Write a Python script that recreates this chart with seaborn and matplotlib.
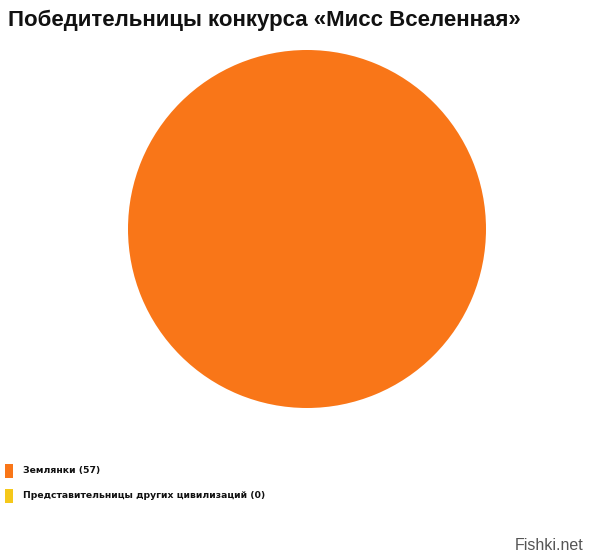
import matplotlib
matplotlib.use("Agg")
import matplotlib.pyplot as plt
from matplotlib.patches import Rectangle
import seaborn as sns

categories = ["Землянки", "Представительницы других цивилизаций"]
values = [57, 0]
colors = ["#F97618", "#F5C81A"]
title = "Победительницы конкурса «Мисс Вселенная»"

sns.set_theme(style="white")
plt.rcParams['font.family'] = ['Liberation Sans', 'DejaVu Sans']

W, H = 600, 559
fig = plt.figure(figsize=(W/100, H/100), dpi=100)
fig.patch.set_facecolor("white")

cx, cy, r = 307, 229, 179
ax = fig.add_axes([(cx - r)/W, (H - cy - r)/H, 2*r/W, 2*r/H])
ax.pie(values, colors=colors, startangle=90, counterclock=False,
       wedgeprops=dict(linewidth=0))
ax.set_aspect("equal")
ax.set_xlim(-1, 1)
ax.set_ylim(-1, 1)
ax.axis("off")

fig.text(8/W, 1 - 20/H, title, fontsize=16, fontweight="bold",
         ha="left", va="center", color="#111111", family=['Liberation Sans', 'DejaVu Sans'])

legend_y = [471, 496]
for lab, val, col, y in zip(categories, values, colors, legend_y):
    fig.patches.append(Rectangle((5/W, 1 - (y + 7)/H), 8/W, 14/H,
                                 transform=fig.transFigure, facecolor=col,
                                 edgecolor="none"))
    fig.text(23/W, 1 - y/H, f"{lab} ({val})", fontsize=6.7, fontweight="bold",
             ha="left", va="center", color="#111111", family=['DejaVu Sans'])

fig.text(583/W, 1 - 545/H, "Fishki.net", fontsize=11.5, ha="right",
         va="center", color="#555555", family=['Liberation Sans', 'DejaVu Sans'])

fig.savefig("out.png", dpi=100, facecolor="white")
